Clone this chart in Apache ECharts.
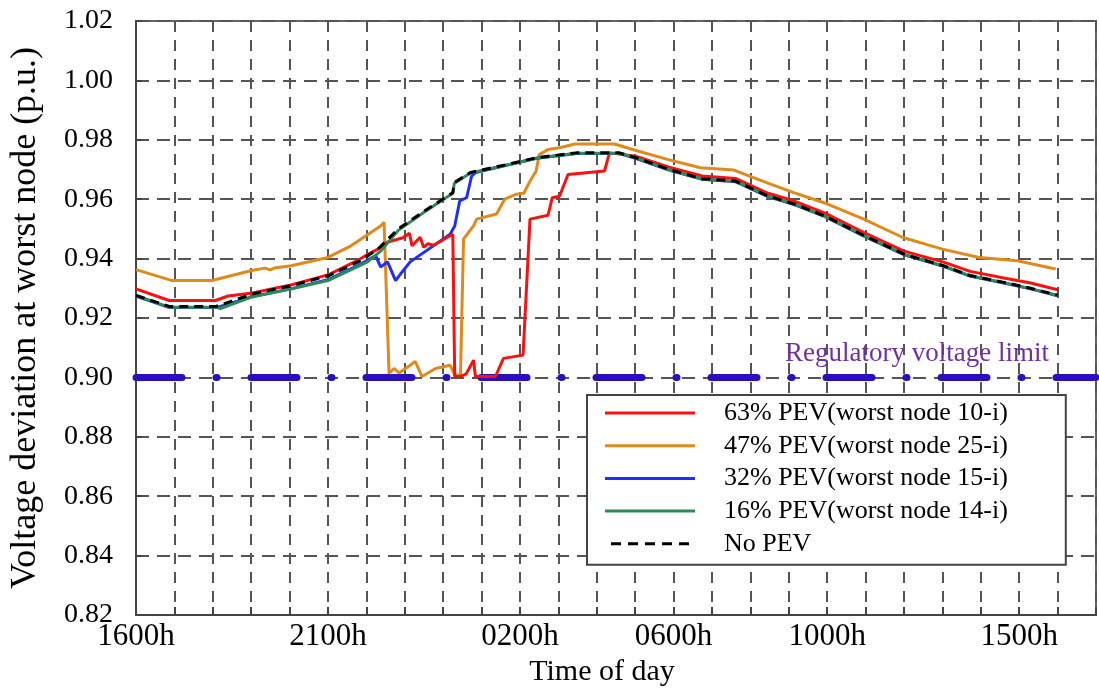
<!DOCTYPE html>
<html>
<head>
<meta charset="utf-8">
<script src="https://cdn.jsdelivr.net/npm/echarts@6/dist/echarts.min.js"></script>
<style>
html,body{margin:0;padding:0;background:#fff;}
#chart{width:1099px;height:693px;}
</style>
</head>
<body>
<div id="chart"></div>
<script>
// hours after 1600h
var xLabelHours = [0, 5, 10, 14, 18, 23];
var xLabelText = ['1600h', '2100h', '0200h', '0600h', '1000h', '1500h'];
var seriesNames = ['63% PEV(worst node 10-i)', '47% PEV(worst node 25-i)', '32% PEV(worst node 15-i)', '16% PEV(worst node 14-i)', 'No PEV'];
var limitValue = 0.90;
var limitText = 'Regulatory voltage limit';

var pev63 = [[0,0.9298],[0.86,0.9259],[2.07,0.9259],[2.4,0.9274],[3.03,0.9284],[4.06,0.9312],[5.02,0.9346],[5.8,0.9396],[6.05,0.9415],[6.3,0.9432],[6.54,0.9455],[6.95,0.9470],[7.12,0.9485],[7.19,0.9443],[7.4,0.9472],[7.49,0.9438],[7.6,0.9450],[7.75,0.9445],[8.25,0.9482],[8.3,0.9003],[8.45,0.9003],[8.6,0.9012],[8.79,0.9058],[8.84,0.9003],[9.36,0.9003],[9.57,0.9064],[10.08,0.9075],[10.26,0.9533],[10.73,0.9546],[10.84,0.9605],[11.03,0.9610],[11.25,0.9683],[12.2,0.9695],[12.33,0.9756],[13.01,0.9745],[13.88,0.9708],[14.75,0.9678],[15.61,0.9670],[16.46,0.9620],[17.16,0.9593],[17.93,0.9554],[18.97,0.9487],[20.0,0.9425],[21.03,0.9388],[21.72,0.9357],[22.6,0.9335],[23.3,0.9318],[24,0.9295]];
var pev47 = [[0,0.9363],[0.94,0.9326],[1.98,0.9326],[3.01,0.9360],[3.36,0.9368],[3.5,0.9362],[3.6,0.9368],[4.04,0.9376],[5.0,0.9404],[5.6,0.9443],[6.37,0.9510],[6.46,0.9522],[6.59,0.9013],[6.72,0.9030],[6.85,0.9015],[7.14,0.9041],[7.27,0.9054],[7.45,0.9003],[7.8,0.9030],[8.18,0.9041],[8.3,0.9008],[8.45,0.9008],[8.53,0.9466],[8.79,0.9510],[8.87,0.9533],[9.39,0.9550],[9.6,0.9600],[9.91,0.9617],[10.1,0.9620],[10.24,0.9656],[10.42,0.9695],[10.5,0.9750],[10.73,0.9767],[11.03,0.9773],[11.43,0.9786],[12.46,0.9786],[13.0,0.9765],[13.84,0.9734],[14.7,0.9706],[15.57,0.9698],[16.42,0.9656],[17.13,0.9622],[17.9,0.9589],[18.95,0.9533],[19.97,0.9471],[21.0,0.9432],[21.96,0.9404],[22.95,0.9393],[23.95,0.9365]];
var pev32 = [[0,0.9274],[0.87,0.9235],[2.09,0.9235],[3.03,0.9272],[4.06,0.9299],[5.02,0.9330],[5.77,0.9376],[6.24,0.9410],[6.37,0.9372],[6.55,0.9389],[6.76,0.9326],[6.93,0.9355],[7.14,0.9389],[8.18,0.9482],[8.3,0.9510],[8.43,0.9594],[8.61,0.9605],[8.74,0.9678],[8.85,0.9690],[9.67,0.9715],[10.44,0.9738],[11.47,0.9754],[12.59,0.9754],[13.01,0.9738],[13.88,0.9698],[14.75,0.9667],[15.61,0.9659],[16.46,0.9609],[17.16,0.9581],[17.93,0.9542],[18.97,0.9475],[20.0,0.9413],[21.03,0.9374],[21.72,0.9341],[22.6,0.9318],[23.3,0.9298],[24,0.9275]];
var pev16 = [[0,0.9276],[0.87,0.9236],[2.09,0.9236],[2.2,0.9232],[3.02,0.9271],[4.05,0.9298],[5.0,0.9326],[6.03,0.9389],[6.38,0.9426],[6.83,0.9495],[7.51,0.9557],[8.25,0.9620],[8.29,0.9654],[8.71,0.9688],[9.67,0.9715],[10.44,0.9739],[11.47,0.9755],[12.59,0.9755],[13.01,0.9739],[13.88,0.9699],[14.75,0.9668],[15.61,0.9660],[16.46,0.9610],[17.16,0.9582],[17.93,0.9543],[18.97,0.9476],[20.0,0.9414],[21.03,0.9375],[21.72,0.9342],[22.6,0.9319],[23.3,0.9299],[24,0.9276]];
var noPev = [[0,0.9276],[0.87,0.9239],[2.09,0.9239],[3.03,0.9281],[4.06,0.9309],[5.02,0.9343],[5.8,0.9390],[6.3,0.9432],[6.83,0.9500],[7.51,0.9560],[8.25,0.9622],[8.29,0.9656],[8.71,0.9690],[9.67,0.9717],[10.44,0.9740],[11.47,0.9756],[12.59,0.9756],[13.01,0.9740],[13.88,0.9700],[14.75,0.9669],[15.61,0.9661],[16.46,0.9611],[17.16,0.9583],[17.93,0.9544],[18.97,0.9477],[20.0,0.9415],[21.03,0.9376],[21.72,0.9343],[22.6,0.9320],[23.3,0.9300],[24,0.9277]];

var FONT = 'Liberation Serif, Times New Roman, serif';
var chart = echarts.init(document.getElementById('chart'), null, {renderer: 'canvas'});

function lineSeries(name, data, color, dashed, z) {
  return {
    name: name, type: 'line', data: data, symbol: 'none', z: z,
    lineStyle: {color: color, width: 3, type: dashed ? [9, 6] : 'solid'},
    itemStyle: {color: color},
    animation: false
  };
}

var DASH_ICON = 'path://M0,0h10v3h-10z M17,0h10v3h-10z M34,0h10v3h-10z M51,0h10v3h-10z M68,0h10v3h-10z';
var legendData = seriesNames.map(function (n, i) {
  return {name: n, icon: i === seriesNames.length - 1 ? DASH_ICON : 'rect'};
});

var option = {
  backgroundColor: '#fff',
  animation: false,
  grid: {left: 136, top: 21, width: 968, height: 594, show: true, borderColor: '#666', borderWidth: 2, backgroundColor: 'transparent'},
  xAxis: {
    type: 'value', min: 0, max: 25, interval: 1,
    name: 'Time of day', nameLocation: 'middle', nameGap: 42,
    nameTextStyle: {fontFamily: FONT, fontSize: 30, color: '#000', padding: [0, 28, 0, 0]},
    axisLine: {show: true, lineStyle: {color: '#444', width: 2}},
    axisTick: {show: true, inside: true, length: 8, lineStyle: {color: '#444', width: 2}},
    axisLabel: {
      fontFamily: FONT, fontSize: 31, color: '#000', margin: 6,
      formatter: function (v) {
        var i = xLabelHours.indexOf(Math.round(v));
        return i >= 0 ? xLabelText[i] : '';
      }
    },
    splitLine: {show: true, lineStyle: {color: '#555', width: 2, type: [11, 8]}}
  },
  yAxis: {
    type: 'value', min: 0.82, max: 1.02, interval: 0.02,
    name: 'Voltage deviation at worst node (p.u.)', nameLocation: 'middle', nameGap: 92,
    nameTextStyle: {fontFamily: FONT, fontSize: 36, color: '#000'},
    axisLine: {show: true, lineStyle: {color: '#444', width: 2}},
    axisTick: {show: true, inside: true, length: 6, lineStyle: {color: '#444', width: 2}},
    axisLabel: {fontFamily: FONT, fontSize: 28, color: '#000', margin: 23, formatter: function (v) { return v.toFixed(2); }},
    splitLine: {show: true, lineStyle: {color: '#555', width: 2, type: [13, 8]}}
  },
  legend: {
    data: legendData,
    orient: 'vertical', left: 587, top: 395,
    padding: [5, 58, 8, 18], itemGap: 6.7, itemWidth: 90, itemHeight: 3,
    backgroundColor: '#fff', borderColor: '#444', borderWidth: 2,
    textStyle: {fontFamily: FONT, fontSize: 26, color: '#000', padding: [0, 0, 0, 24]}
  },
  graphic: [{
    type: 'text', left: 785, top: 340, z: 100,
    style: {text: limitText, fontFamily: FONT, fontSize: 27, fill: '#7030A0'}
  }],
  series: [
    {
      name: 'limit', type: 'line', data: [[0, limitValue], [25, limitValue]], symbol: 'none', z: 1,
      lineStyle: {color: '#2a10bd', width: 7, type: [46, 34, 1, 34], cap: 'round'},
      silent: true, animation: false
    },
    lineSeries(seriesNames[1], pev47, '#e08a1c', false, 2),
    lineSeries(seriesNames[2], pev32, '#1f2ff5', false, 3),
    lineSeries(seriesNames[0], pev63, '#fb1010', false, 4),
    lineSeries(seriesNames[3], pev16, '#2e8b57', false, 5),
    lineSeries(seriesNames[4], noPev, '#000000', true, 6)
  ]
};
chart.setOption(option);
</script>
</body>
</html>
